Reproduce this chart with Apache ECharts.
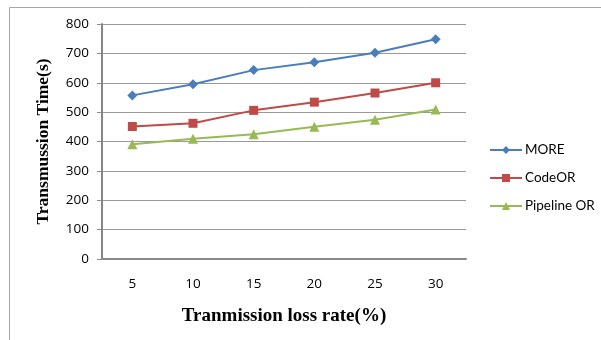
<!DOCTYPE html>
<html><head><meta charset="utf-8">
<script src="https://cdn.jsdelivr.net/npm/echarts@6/dist/echarts.min.js"></script>
<style>html,body{margin:0;padding:0;background:#fff}#c{width:601px;height:340px}</style>
</head><body><div id="c"></div>
<script>
const categories = ['5','10','15','20','25','30'];
const moreValues = [557, 595, 643, 670, 702, 748];
const codeorValues = [451, 462, 506, 534, 565, 600];
const pipelineValues = [391, 409, 425, 450, 474, 509];
const seriesNames = ['MORE', 'CodeOR', 'Pipeline OR'];
const yTicks = {min: 0, max: 800, interval: 100};

const chart = echarts.init(document.getElementById('c'));
const labelFont = {fontFamily: 'Open Sans, sans-serif', fontSize: 13.5, color: '#000'};
chart.setOption({
  animation: false,
  graphic: [{type: 'rect', shape: {x: 9.5, y: 7.5, width: 620, height: 360}, style: {fill: 'none', stroke: '#a6a6a6', lineWidth: 1}, z: -1}],
  grid: {left: 102, right: 135, top: 24, bottom: 81},
  legend: {
    orient: 'vertical', left: 489, top: 143, padding: 0, itemGap: 14, itemWidth: 32, itemHeight: 10,
    textStyle: {fontFamily: 'Lato, sans-serif', fontSize: 13.5, color: '#000', padding: [0, 0, 0, -2]},
    data: seriesNames
  },
  xAxis: {
    type: 'category', data: categories, boundaryGap: true,
    axisLine: {lineStyle: {color: '#888', width: 2}},
    axisTick: {show: false},
    axisLabel: Object.assign({margin: 18}, labelFont),
    name: 'Tranmission loss rate(%)', nameLocation: 'middle', nameGap: 48,
    nameTextStyle: {fontFamily: 'Liberation Serif, serif', fontWeight: 'bold', fontSize: 19, color: '#000'}
  },
  yAxis: {
    type: 'value', min: yTicks.min, max: yTicks.max, interval: yTicks.interval,
    axisLine: {show: true, lineStyle: {color: '#888', width: 2}},
    axisTick: {show: true, length: 5, lineStyle: {color: '#888'}},
    splitLine: {lineStyle: {color: '#999', width: 1}},
    axisLabel: Object.assign({margin: 13}, labelFont),
    name: 'Transmussion Time(s)', nameLocation: 'middle', nameGap: 50,
    nameTextStyle: {fontFamily: 'Liberation Serif, serif', fontWeight: 'bold', fontSize: 17.5, color: '#000'}
  },
  series: [
    {name: seriesNames[0], type: 'line', data: moreValues, symbol: 'diamond', symbolSize: 10,
     itemStyle: {color: '#4A7EBB'}, lineStyle: {color: '#4A7EBB', width: 2}},
    {name: seriesNames[1], type: 'line', data: codeorValues, symbol: 'rect', symbolSize: 9,
     itemStyle: {color: '#BE4B48'}, lineStyle: {color: '#BE4B48', width: 2}},
    {name: seriesNames[2], type: 'line', data: pipelineValues, symbol: 'triangle', symbolSize: 10,
     itemStyle: {color: '#98B954'}, lineStyle: {color: '#98B954', width: 2}}
  ]
});
</script></body></html>
